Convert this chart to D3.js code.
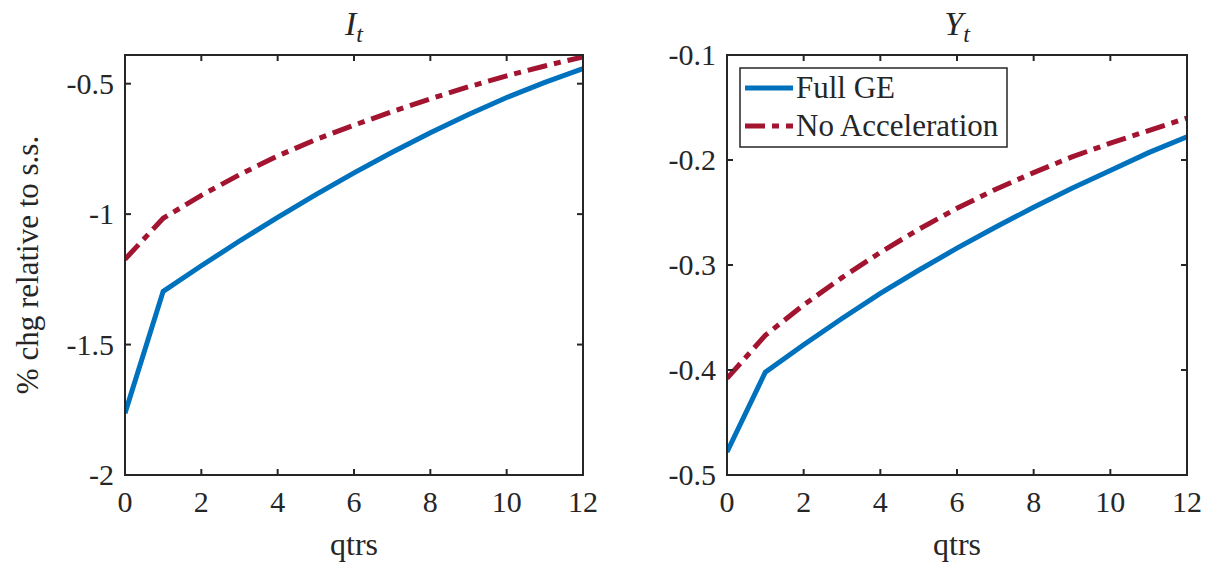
<!DOCTYPE html>
<html>
<head>
<meta charset="utf-8">
<script src="https://cdn.jsdelivr.net/npm/d3@7"></script>
<style>
  body { margin: 0; background: #fff; }
  text { font-family: "Liberation Serif", "DejaVu Serif", serif; fill: #262626; }
</style>
</head>
<body>
<div id="chart"></div>
<script>
// quarters after the shock
var qtrs = [0, 1, 2, 3, 4, 5, 6, 7, 8, 9, 10, 11, 12]
var xTicks = [0, 2, 4, 6, 8, 10, 12]

// I_t panel
var invFullGE = [-1.763, -1.296, -1.198, -1.103, -1.012, -0.925, -0.842, -0.763, -0.688, -0.618, -0.553, -0.495, -0.442]
var invNoAccel = [-1.173, -1.016, -0.928, -0.849, -0.777, -0.714, -0.659, -0.607, -0.558, -0.512, -0.470, -0.432, -0.397]
var invTicks = [-2, -1.5, -1, -0.5]

// Y_t panel
var outFullGE = [-0.478, -0.402, -0.376, -0.351, -0.327, -0.305, -0.284, -0.264, -0.245, -0.227, -0.210, -0.193, -0.178]
var outNoAccel = [-0.408, -0.367, -0.338, -0.312, -0.288, -0.266, -0.246, -0.228, -0.212, -0.197, -0.184, -0.172, -0.160]
var outTicks = [-0.5, -0.4, -0.3, -0.2, -0.1]

var seriesNames = ["Full GE", "No Acceleration"]
var blue = "#0072BD", red = "#A2142F"

var W = 1210, H = 567
var svg = d3.select("#chart").append("svg")
  .attr("width", W).attr("height", H)

var plotTop = 55, plotBottom = 475
var tickLen = 6
var dash = "20,7,7,7"

var panels = [
  {x0: 125, x1: 583, main: "I", sub: "t", ydom: [-2, -0.39], yticks: invTicks,
   lines: [invFullGE, invNoAccel], legend: false},
  {x0: 727, x1: 1187, main: "Y", sub: "t", ydom: [-0.5, -0.1], yticks: outTicks,
   lines: [outFullGE, outNoAccel], legend: true}
]

panels.forEach(function(p, k){
  var x = d3.scaleLinear().domain([0, 12]).range([p.x0, p.x1])
  var y = d3.scaleLinear().domain(p.ydom).range([plotBottom, plotTop])
  var g = svg.append("g")

  var cid = "clip" + k
  svg.append("clipPath").attr("id", cid).append("rect")
    .attr("x", p.x0).attr("y", plotTop - 3).attr("width", p.x1 - p.x0).attr("height", plotBottom - plotTop + 3)

  var line = d3.line()
    .x(function(d, i){ return x(qtrs[i]) })
    .y(function(d){ return y(d) })

  g.append("path").datum(p.lines[0])
    .attr("d", line).attr("fill", "none")
    .attr("stroke", blue).attr("stroke-width", 5)
    .attr("clip-path", "url(#" + cid + ")")
  g.append("path").datum(p.lines[1])
    .attr("d", line).attr("fill", "none")
    .attr("stroke", red).attr("stroke-width", 5)
    .attr("stroke-dasharray", dash)
    .attr("clip-path", "url(#" + cid + ")")

  // box
  g.append("rect")
    .attr("x", p.x0).attr("y", plotTop)
    .attr("width", p.x1 - p.x0).attr("height", plotBottom - plotTop)
    .attr("fill", "none").attr("stroke", "#262626").attr("stroke-width", 2)

  // x ticks, inward on both sides
  xTicks.forEach(function(t){
    g.append("line").attr("x1", x(t)).attr("x2", x(t))
      .attr("y1", plotBottom).attr("y2", plotBottom - tickLen)
      .attr("stroke", "#262626").attr("stroke-width", 2)
    g.append("line").attr("x1", x(t)).attr("x2", x(t))
      .attr("y1", plotTop).attr("y2", plotTop + tickLen)
      .attr("stroke", "#262626").attr("stroke-width", 2)
    g.append("text").attr("x", x(t)).attr("y", plotBottom + 37)
      .attr("text-anchor", "middle").style("font-size", "30px")
      .text(t)
  })

  // y ticks
  p.yticks.forEach(function(t){
    g.append("line").attr("x1", p.x0).attr("x2", p.x0 + tickLen)
      .attr("y1", y(t)).attr("y2", y(t))
      .attr("stroke", "#262626").attr("stroke-width", 2)
    g.append("line").attr("x1", p.x1).attr("x2", p.x1 - tickLen)
      .attr("y1", y(t)).attr("y2", y(t))
      .attr("stroke", "#262626").attr("stroke-width", 2)
    g.append("text").attr("x", p.x0 - 11).attr("y", y(t) + 10)
      .attr("text-anchor", "end").style("font-size", "30px")
      .text(String(t))
  })

  // title
  var title = g.append("text").attr("x", (p.x0 + p.x1) / 2).attr("y", 35)
    .attr("text-anchor", "middle").style("font-size", "34px").style("font-style", "italic")
  title.append("tspan").text(p.main)
  title.append("tspan").attr("dy", 7).style("font-size", "24px").text(p.sub)

  // x label
  g.append("text").attr("x", (p.x0 + p.x1) / 2).attr("y", 555)
    .attr("text-anchor", "middle").style("font-size", "32px").text("qtrs")

  if (p.legend) {
    var lx = 740, ly = 68, lw = 267, lh = 79
    var leg = g.append("g")
    leg.append("rect").attr("x", lx).attr("y", ly).attr("width", lw).attr("height", lh)
      .attr("fill", "#fff").attr("stroke", "#262626").attr("stroke-width", 1.5)
    seriesNames.forEach(function(name, i){
      var yy = ly + 20 + i * 38
      leg.append("line").attr("x1", lx + 5).attr("x2", lx + 53)
        .attr("y1", yy).attr("y2", yy)
        .attr("stroke", i == 0 ? blue : red).attr("stroke-width", 5)
        .attr("stroke-dasharray", i == 0 ? null : dash)
      leg.append("text").attr("x", lx + 56).attr("y", yy + 10)
        .style("font-size", "31px").text(name)
    })
  }
})

// shared y label
svg.append("text")
  .attr("transform", "translate(38," + ((plotTop + plotBottom) / 2) + ") rotate(-90)")
  .attr("text-anchor", "middle").style("font-size", "31px")
  .text("% chg relative to s.s.")
</script>
</body>
</html>
